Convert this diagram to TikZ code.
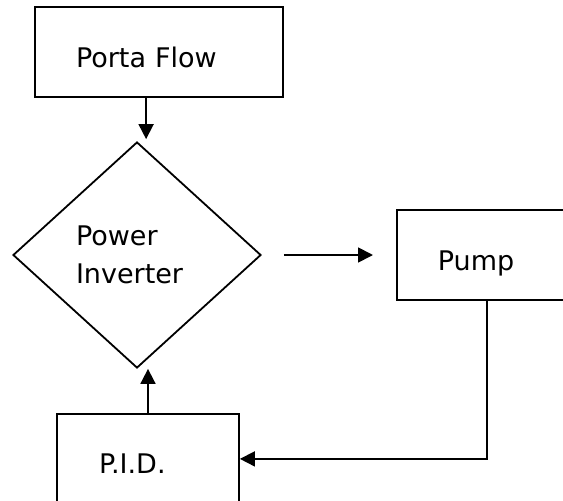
\documentclass[tikz,border=0pt]{standalone}
\usepackage{fontspec}
\setmainfont{DejaVu Sans}
\usetikzlibrary{shapes.geometric,arrows.meta,calc}
\tikzset{
  blk/.style ={draw, line width=1.8pt, align=left, font=\fontsize{27}{38}\selectfont,
               text height=30pt, text depth=0pt, inner ysep=0pt, minimum height=90pt},
  dec/.style ={draw, diamond, line width=1.8pt, align=left, inner sep=0pt,
               font=\fontsize{27}{38}\selectfont},
  flow/.style={-{Triangle[length=15pt,width=15pt]}, line width=1.8pt},
}

\begin{document}
\begin{tikzpicture}[x=1pt, y=-1pt]

\clip (0,0) rectangle (563,501);

\node[blk, text width=166pt, inner xsep=41pt] (porta) at (159,52) {Porta Flow};
\node[dec, minimum width=248pt, minimum height=226pt, text width=122pt] (inv) at (137,255)
  {Power\\Inverter};
\node[blk, text width=98pt, inner xsep=41pt, anchor=west] (pump) at (396,255) {Pump};
\node[blk, text width=98pt, inner xsep=42pt, anchor=north] (pid) at (148,413) {P.I.D.};

\coordinate (fa) at ($(porta.south west)+(112,0)$);
\coordinate (fb) at ($(pump.south west)+(91,0)$);

\draw[flow, shorten >=2pt] (fa) -- (fa |- inv.north);
\draw[flow, shorten <=22pt, shorten >=23pt] (inv.east) -- (pump.west);
\draw[flow] (fb) |- (pid.east);
\draw[flow] (pid.north) -- (pid.north |- inv.south);

\end{tikzpicture}
\end{document}
